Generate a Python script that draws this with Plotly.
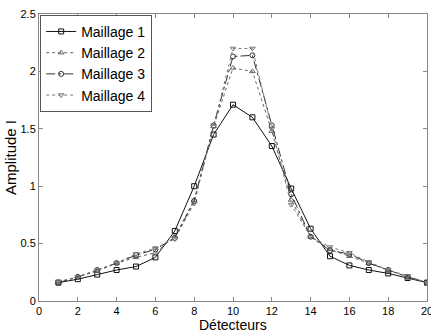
import plotly.graph_objects as go

x = list(range(1, 21))
names = ["Maillage 1", "Maillage 2", "Maillage 3", "Maillage 4"]
m1 = [0.16, 0.19, 0.23, 0.27, 0.30, 0.38, 0.61, 1.00, 1.45, 1.71, 1.60, 1.35, 0.98, 0.63, 0.39, 0.31, 0.27, 0.24, 0.20, 0.16]
m2 = [0.16, 0.21, 0.26, 0.33, 0.38, 0.42, 0.56, 0.88, 1.52, 2.03, 2.00, 1.48, 0.88, 0.56, 0.45, 0.39, 0.33, 0.27, 0.21, 0.16]
m3 = [0.16, 0.21, 0.27, 0.33, 0.40, 0.45, 0.55, 0.87, 1.53, 2.13, 2.14, 1.53, 0.93, 0.56, 0.44, 0.41, 0.33, 0.27, 0.21, 0.16]
m4 = [0.17, 0.21, 0.27, 0.33, 0.41, 0.46, 0.54, 0.85, 1.52, 2.20, 2.20, 1.50, 0.84, 0.56, 0.47, 0.42, 0.34, 0.27, 0.22, 0.16]
xtitle = "Détecteurs"
ytitle = "Amplitude I"

series = [m1, m2, m3, m4]
symbols = ["square-open", "triangle-up-open", "circle-open", "triangle-down-open"]
dashes = ["solid", "dot", "dashdot", "dot"]
colors = ["#111111", "#666666", "#333333", "#777777"]

fig = go.Figure()
for n, y, s, d, c in zip(names, series, symbols, dashes, colors):
    fig.add_trace(go.Scatter(
        x=x, y=y, name=n, mode="lines+markers",
        line=dict(color=c, width=1, dash=d),
        marker=dict(symbol=s, size=5, color=c, line=dict(width=1, color=c)),
    ))

fig.update_layout(
    width=431, height=333,
    margin=dict(l=39, r=4, t=14, b=32),
    paper_bgcolor="white", plot_bgcolor="white",
    font=dict(family="Liberation Sans, Arial, sans-serif", color="black", size=11),
    showlegend=True,
    legend=dict(
        x=0.003, y=0.997, xanchor="left", yanchor="top",
        bordercolor="#555555", borderwidth=1, bgcolor="white",
        font=dict(size=14), tracegroupgap=0, itemwidth=30,
    ),
    xaxis=dict(
        range=[0, 20], tickvals=list(range(0, 21, 2)),
        showgrid=False, zeroline=False, showline=True, mirror="ticks",
        linecolor="#888888", linewidth=1, ticks="inside", ticklen=4, tickcolor="#888888",
        tickfont=dict(size=11), automargin=False, ticklabeloverflow="allow",
    ),
    yaxis=dict(
        range=[0, 2.5], tickvals=[0, 0.5, 1, 1.5, 2, 2.5],
        ticktext=["0", "0.5", "1", "1.5", "2", "2.5"],
        showgrid=False, zeroline=False, showline=True, mirror="ticks",
        linecolor="#888888", linewidth=1, ticks="inside", ticklen=4, tickcolor="#888888",
        title=dict(text=ytitle, font=dict(size=15), standoff=0),
        tickfont=dict(size=11), automargin=False, ticklabeloverflow="allow",
    ),
    annotations=[dict(
        text=xtitle, xref="paper", yref="paper", x=0.5, y=-32 / 287,
        xanchor="center", yanchor="bottom", showarrow=False,
        font=dict(size=14), yshift=-1, borderpad=0,
    )],
)

fig.write_html("out.html")
